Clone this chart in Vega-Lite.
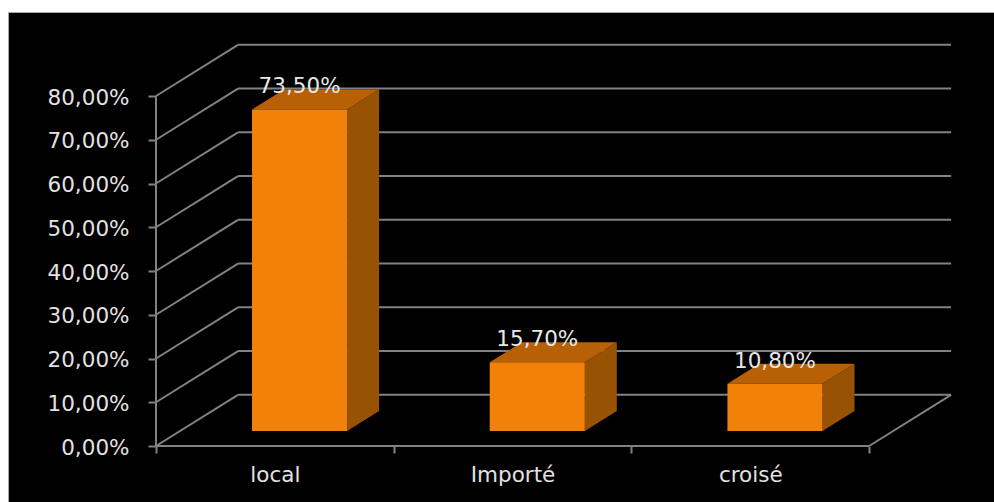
{
  "$schema": "https://vega.github.io/schema/vega-lite/v6.json",
  "width": 986,
  "height": 490,
  "padding": {"left": 8, "top": 12, "right": 0, "bottom": 0},
  "autosize": {"type": "none"},
  "background": "#ffffff",
  "view": {"fill": "#000000", "stroke": "#a8a8a8", "strokeWidth": 1},
  "datasets": {
    "ticks": [
      {"tick": 0}, {"tick": 10}, {"tick": 20}, {"tick": 30}, {"tick": 40},
      {"tick": 50}, {"tick": 60}, {"tick": 70}, {"tick": 80}
    ],
    "bars": [
      {"category": "local", "value": 73.5},
      {"category": "Importé", "value": 15.7},
      {"category": "croisé", "value": 10.8}
    ],
    "origin": [{"tick": 0}]
  },
  "layer": [
    {
      "data": {"name": "ticks"},
      "transform": [{"calculate": "datum.tick + 11.7", "as": "backTick"}],
      "mark": {"type": "rule", "color": "#828282", "strokeWidth": 2},
      "encoding": {
        "x": {
          "datum": 0,
          "type": "quantitative",
          "scale": {"domain": [-0.6226, 3.5254], "nice": false, "zero": false},
          "axis": {
            "title": null,
            "grid": false,
            "domain": false,
            "offset": -56,
            "values": [0, 0.5, 1, 1.5, 2, 2.5, 3],
            "labelExpr": "datum.value == 0.5 ? 'local' : datum.value == 1.5 ? 'Importé' : datum.value == 2.5 ? 'croisé' : ''",
            "tickColor": "#828282",
            "tickWidth": 2,
            "tickSize": 7,
            "tickOpacity": {"condition": {"test": "datum.value % 1 === 0", "value": 1}, "value": 0},
            "labelPadding": 11,
            "labelFont": "DejaVu Sans",
            "labelFontSize": 21.5,
            "labelColor": "#e2e2e2",
            "labelOverlap": false,
            "labelFlush": false
          }
        },
        "x2": {"datum": 0.345},
        "y": {
          "field": "tick",
          "type": "quantitative",
          "scale": {"domain": [-12.8, 99.2], "nice": false, "zero": false},
          "axis": {
            "title": null,
            "grid": false,
            "domain": false,
            "offset": -148,
            "values": [0, 10, 20, 30, 40, 50, 60, 70, 80],
            "labelExpr": "replace(format(datum.value, '.2f'), '.', ',') + '%'",
            "tickColor": "#828282",
            "tickWidth": 2,
            "tickSize": 8,
            "labelPadding": 19,
            "labelOffset": 2,
            "labelFont": "DejaVu Sans",
            "labelFontSize": 21.5,
            "labelColor": "#e2e2e2",
            "labelOverlap": false,
            "labelFlush": false
          }
        },
        "y2": {"field": "backTick"}
      }
    },
    {
      "data": {"name": "ticks"},
      "transform": [{"calculate": "datum.tick + 11.7", "as": "backTick"}],
      "mark": {"type": "rule", "color": "#828282", "strokeWidth": 2},
      "encoding": {
        "x": {"datum": 0.345, "type": "quantitative"},
        "x2": {"datum": 3.345},
        "y": {"field": "backTick", "type": "quantitative"}
      }
    },
    {
      "data": {"name": "origin"},
      "mark": {"type": "rule", "color": "#828282", "strokeWidth": 2},
      "encoding": {
        "x": {"datum": 0, "type": "quantitative"},
        "y": {"datum": 0, "type": "quantitative"},
        "y2": {"datum": 80}
      }
    },
    {
      "data": {"name": "origin"},
      "mark": {"type": "rule", "color": "#828282", "strokeWidth": 2},
      "encoding": {
        "x": {"datum": 0, "type": "quantitative"},
        "x2": {"datum": 3},
        "y": {"datum": 0, "type": "quantitative"}
      }
    },
    {
      "data": {"name": "origin"},
      "mark": {"type": "rule", "color": "#828282", "strokeWidth": 2},
      "encoding": {
        "x": {"datum": 3, "type": "quantitative"},
        "x2": {"datum": 3.345},
        "y": {"datum": 0, "type": "quantitative"},
        "y2": {"datum": 11.7}
      }
    },
    {
      "data": {"name": "bars"},
      "transform": [
        {"calculate": "indexof(['local', 'Importé', 'croisé'], datum.category) + 0.804", "as": "right"},
        {"calculate": "[0, 1]", "as": "depth"},
        {"flatten": ["depth"]},
        {"calculate": "datum.right + 0.1346 * datum.depth", "as": "sideX"},
        {"calculate": "3.43 + 4.57 * datum.depth", "as": "sideLow"},
        {"calculate": "datum.value + 3.43 + 4.57 * datum.depth", "as": "sideHigh"}
      ],
      "mark": {"type": "area", "color": "#985203"},
      "encoding": {
        "x": {"field": "sideX", "type": "quantitative"},
        "y": {"field": "sideLow", "type": "quantitative"},
        "y2": {"field": "sideHigh"},
        "detail": {"field": "category"}
      }
    },
    {
      "data": {"name": "bars"},
      "transform": [
        {"calculate": "indexof(['local', 'Importé', 'croisé'], datum.category) + 0.404", "as": "left"},
        {"calculate": "[0, 1]", "as": "depth"},
        {"flatten": ["depth"]},
        {"calculate": "datum.left + 0.1346 * datum.depth", "as": "topLeft"},
        {"calculate": "datum.left + 0.4 + 0.1346 * datum.depth", "as": "topRight"},
        {"calculate": "datum.value + 3.43 + 4.57 * datum.depth", "as": "topY"}
      ],
      "mark": {"type": "area", "orient": "horizontal", "color": "#B86005"},
      "encoding": {
        "y": {"field": "topY", "type": "quantitative"},
        "x": {"field": "topLeft", "type": "quantitative"},
        "x2": {"field": "topRight"},
        "detail": {"field": "category"}
      }
    },
    {
      "data": {"name": "bars"},
      "transform": [
        {"calculate": "indexof(['local', 'Importé', 'croisé'], datum.category) + 0.404", "as": "left"},
        {"calculate": "datum.left + 0.4", "as": "right"},
        {"calculate": "datum.value + 3.43", "as": "top"},
        {"calculate": "3.43", "as": "base"}
      ],
      "mark": {"type": "rect", "color": "#F2810A"},
      "encoding": {
        "x": {"field": "left", "type": "quantitative"},
        "x2": {"field": "right"},
        "y": {"field": "base", "type": "quantitative"},
        "y2": {"field": "top"}
      }
    },
    {
      "data": {"name": "bars"},
      "transform": [
        {"calculate": "indexof(['local', 'Importé', 'croisé'], datum.category) + 0.604", "as": "middle"},
        {"calculate": "datum.value + 3.43", "as": "top"},
        {"calculate": "replace(format(datum.value, '.2f'), '.', ',') + '%'", "as": "label"}
      ],
      "mark": {
        "type": "text",
        "font": "DejaVu Sans",
        "fontSize": 21.5,
        "color": "#e8e8e8",
        "baseline": "middle",
        "align": "center",
        "dy": -22
      },
      "encoding": {
        "x": {"field": "middle", "type": "quantitative"},
        "y": {"field": "top", "type": "quantitative"},
        "text": {"field": "label"}
      }
    }
  ]
}
